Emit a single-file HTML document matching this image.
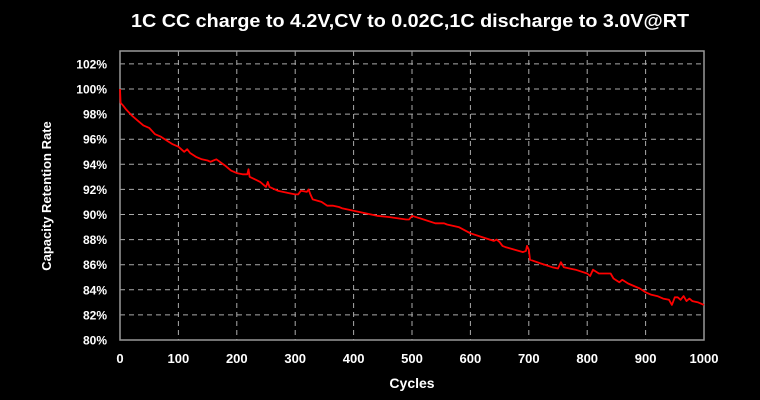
<!DOCTYPE html>
<html><head><meta charset="utf-8"><style>
html,body{margin:0;padding:0;background:#000;}
svg{display:block;font-family:"Liberation Sans",sans-serif;font-weight:bold;}
</style></head><body>
<svg id="chart" width="760" height="400" viewBox="0 0 760 400">
<rect width="760" height="400" fill="#000"/>
<text x="410" y="27" fill="#fff" font-size="18" text-anchor="middle" textLength="558" lengthAdjust="spacingAndGlyphs">1C CC charge to 4.2V,CV to 0.02C,1C discharge to 3.0V@RT</text>
<g id="grid"></g>
<rect x="120" y="51" width="584" height="289" fill="none" stroke="#999" stroke-width="1.5"/>
<g id="ticks"></g>
<path id="series" fill="none" stroke="#ff0000" stroke-width="1.8" stroke-linejoin="round"/>
<text x="412" y="388" fill="#fff" font-size="14" text-anchor="middle">Cycles</text>
<text transform="translate(51,196) rotate(-90)" fill="#fff" font-size="13" text-anchor="middle">Capacity Retention Rate</text>
</svg>
<script>
const xTicks=[0,100,200,300,400,500,600,700,800,900,1000];
const yTicks=[80,82,84,86,88,90,92,94,96,98,100,102];
const cycles=[0,1,5,10,20,30,40,50,60,70,80,90,100,110,115,120,130,140,150,155,160,165,180,190,200,210,218,220,222,240,250,253,256,270,290,300,305,310,320,323,326,330,345,355,365,375,380,400,420,440,460,490,495,500,520,540,555,560,580,600,620,640,645,650,655,660,690,695,697,700,702,720,740,750,755,760,780,800,805,810,820,830,840,845,855,860,870,880,890,900,910,920,930,940,945,950,955,960,965,970,975,980,990,1000];
const capacity=[100,98.9,98.7,98.4,97.9,97.5,97.1,96.9,96.4,96.2,95.9,95.6,95.4,95.0,95.2,94.9,94.6,94.4,94.3,94.2,94.3,94.4,93.9,93.5,93.3,93.2,93.2,93.6,93.0,92.6,92.2,92.6,92.2,91.9,91.7,91.6,91.6,91.9,91.8,92.0,91.6,91.2,91.0,90.7,90.7,90.6,90.5,90.3,90.1,89.9,89.8,89.6,89.6,89.9,89.6,89.3,89.3,89.2,89.0,88.5,88.2,87.9,88.0,87.8,87.5,87.4,87.0,87.1,87.5,87.2,86.4,86.1,85.8,85.7,86.2,85.8,85.6,85.3,85.1,85.6,85.3,85.3,85.3,84.9,84.6,84.8,84.5,84.3,84.1,83.8,83.6,83.5,83.3,83.2,82.8,83.4,83.4,83.2,83.5,83.1,83.3,83.1,83.0,82.8];
const X=v=>120+v*0.584;
const Y=v=>340-(v-80)*12.55;
const ns="http://www.w3.org/2000/svg";
const grid=document.getElementById('grid'),ticks=document.getElementById('ticks');
xTicks.forEach(t=>{
 if(t>0&&t<1000){const l=document.createElementNS(ns,'line');
 
 
 l.setAttribute('x1',X(t));l.setAttribute('x2',X(t));l.setAttribute('y1',51);l.setAttribute('y2',340);
 l.setAttribute('stroke','#aaa');l.setAttribute('stroke-dasharray','5,4');grid.appendChild(l);}
 const tx=document.createElementNS(ns,'text');
 
 
 tx.setAttribute('x',X(t));tx.setAttribute('y',363);tx.setAttribute('fill','#fff');tx.setAttribute('font-size','13');tx.setAttribute('text-anchor','middle');
 tx.textContent=t;ticks.appendChild(tx);
});
yTicks.forEach(t=>{
 if(t>80){const l=document.createElementNS(ns,'line');
 
 
 l.setAttribute('x1',120);l.setAttribute('x2',704);l.setAttribute('y1',Y(t));l.setAttribute('y2',Y(t));
 l.setAttribute('stroke','#aaa');l.setAttribute('stroke-dasharray','5,4');grid.appendChild(l);}
 const tx=document.createElementNS(ns,'text');
 
 
 tx.setAttribute('x',107);tx.setAttribute('y',Y(t)+4.5);tx.setAttribute('fill','#fff');tx.setAttribute('font-size','12');tx.setAttribute('text-anchor','end');
 tx.textContent=t+'%';ticks.appendChild(tx);
});
document.getElementById('series').setAttribute('d',cycles.map((c,i)=>(i?'L':'M')+X(c).toFixed(1)+','+Y(capacity[i]).toFixed(1)).join(''));
</script>
</body></html>
